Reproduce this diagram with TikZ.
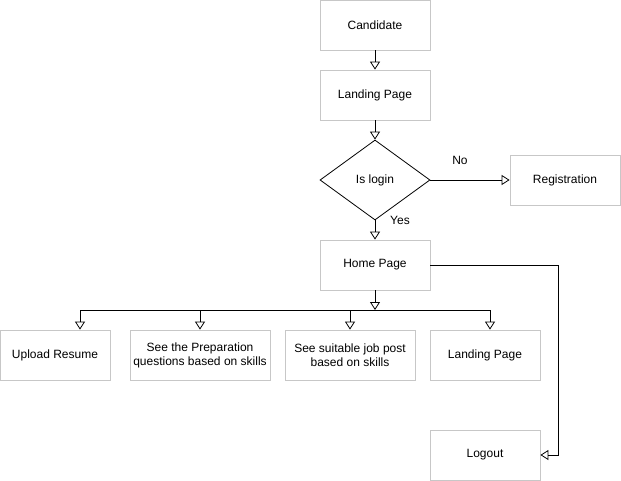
\documentclass[tikz,border=0pt]{standalone}
\usepackage{fontspec}
\setmainfont{Liberation Sans}
\usetikzlibrary{arrows.meta,shapes.geometric}
\begin{document}
\begin{tikzpicture}[x=1pt,y=-1pt,
  box/.style={draw=black!22,fill=white,line width=0.8pt,minimum width=110pt,minimum height=50pt,inner sep=0pt,align=center,font=\fontsize{12}{14}\selectfont},
  dec/.style={draw=black,fill=white,line width=0.8pt,diamond,aspect=1.375,minimum width=110pt,minimum height=80pt,inner sep=0pt,font=\fontsize{12}{14}\selectfont},
  conn/.style={draw=black,line width=0.8pt,-{Triangle[open,length=8pt,width=10pt]}},
  lbl/.style={font=\fontsize{12}{14}\selectfont,inner sep=0pt}]
\useasboundingbox (0,0) rectangle (621,481);
\node[box] (cand) at (375,25) {Candidate};
\node[box] (land) at (375,95) {Landing Page};
\node[dec] (login) at (375,180) {Is login};
\node[box] (reg) at (565,180) {Registration};
\node[box] (home) at (375,265) {Home Page};
\node[box,minimum width=110pt] (upl) at (55,355) {Upload Resume};
\node[box,minimum width=140pt] (prep) at (200,355) {See the Preparation\\questions based on skills};
\node[box,minimum width=130pt] (job) at (350,355) {See suitable job post\\based on skills};
\node[box] (land2) at (485,355) {Landing Page};
\node[box] (logout) at (485,455) {Logout};
\coordinate (junc) at (375,310);
\coordinate (c1) at (80,310);
\coordinate (c4) at (490,310);
\coordinate (r1) at (558,265);
\coordinate (r2) at (558,455);
\draw[conn] (cand) -- (land);
\draw[conn] (land) -- (login);
\draw[conn] (login) -- (reg);
\draw[conn] (login) -- (home);
\draw[conn] (home) -- (junc);
\draw[line width=0.8pt] (c1) -- (c4);
\draw[conn] (c1) -- (c1 |- upl.north);
\draw[conn] (prep.north |- junc) -- (prep);
\draw[conn] (job.north |- junc) -- (job);
\draw[conn] (c4) -- (c4 |- land2.north);
\draw[conn] (home.east) -- (r1) -- (r2) -- (logout.east);
\node[lbl] (no) at (460,160) {No};
\node[lbl] (yes) at (400,220) {Yes};
\end{tikzpicture}
\end{document}
